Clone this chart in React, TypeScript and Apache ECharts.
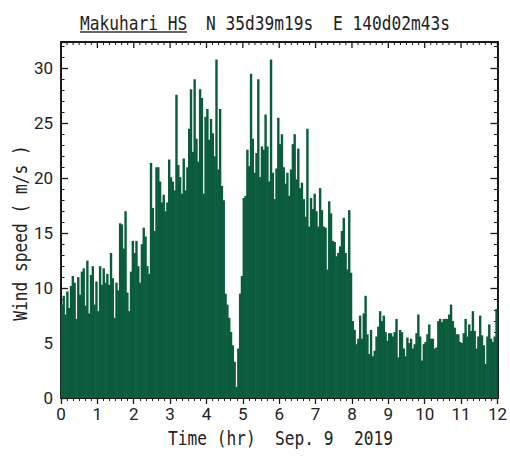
import React, { useEffect, useRef } from "react";
import * as echarts from "echarts";

// Wind speed (m/s), 3-minute steps, 20 values per hour
const hour0 = [8.5, 9.3, 7.6, 9.7, 8.2, 10.2, 11.1, 10.5, 7.2, 11.0, 9.4, 11.5, 11.8, 8.4, 12.5, 7.7, 11.2, 12.0, 8.5, 10.6];
const hour1 = [7.9, 12.0, 10.3, 11.8, 10.5, 11.3, 10.3, 13.2, 10.9, 7.3, 10.5, 9.8, 15.9, 15.8, 13.6, 17.0, 9.6, 7.9, 11.5, 14.3];
const hour2 = [13.2, 14.3, 12.0, 10.5, 14.0, 15.5, 14.7, 12.0, 11.3, 21.4, 17.3, 15.2, 21.0, 21.0, 19.7, 17.8, 18.5, 17.0, 17.8, 21.7];
const hour3 = [20.1, 19.7, 18.9, 27.6, 21.2, 20.1, 18.6, 21.8, 18.9, 21.0, 24.5, 28.1, 22.4, 29.0, 23.6, 21.5, 28.1, 27.3, 18.6, 25.6];
const hour4 = [26.3, 23.5, 25.4, 24.1, 22.0, 30.8, 20.8, 26.3, 19.3, 18.0, 9.5, 8.5, 7.3, 6.0, 4.8, 3.3, 1.0, 4.5, 9.5, 11.1];
const hour5 = [18.2, 18.4, 22.6, 21.1, 29.5, 23.6, 20.5, 22.3, 29.0, 20.1, 22.9, 22.6, 25.8, 22.9, 19.7, 30.8, 20.5, 18.1, 20.9, 25.5];
const hour6 = [23.1, 24.0, 21.0, 19.5, 20.5, 18.4, 20.8, 23.1, 24.0, 19.9, 22.7, 19.1, 19.6, 18.1, 16.5, 24.5, 15.6, 18.2, 17.2, 18.6];
const hour7 = [17.0, 15.6, 19.1, 17.1, 15.6, 15.5, 11.7, 17.9, 16.8, 14.3, 14.2, 12.9, 13.2, 13.8, 15.2, 16.4, 13.2, 11.7, 17.1, 11.4];
const hour8 = [7.0, 6.2, 4.9, 5.4, 7.5, 5.4, 7.7, 9.3, 5.8, 4.0, 6.2, 3.8, 4.3, 5.6, 6.5, 7.9, 7.0, 7.5, 6.0, 5.2];
const hour9 = [5.9, 5.9, 5.6, 6.0, 7.2, 3.7, 6.2, 6.0, 4.5, 3.8, 5.5, 5.0, 5.4, 4.5, 4.9, 5.9, 7.6, 5.6, 3.4, 4.9];
const hour10 = [5.1, 5.8, 6.7, 5.4, 5.4, 4.5, 4.6, 7.0, 7.2, 6.9, 7.2, 7.2, 7.2, 7.6, 8.5, 7.0, 6.4, 5.8, 5.8, 5.1];
const hour11 = [5.0, 5.9, 7.2, 5.6, 6.7, 6.1, 7.9, 6.1, 4.5, 5.6, 7.5, 5.7, 4.8, 3.1, 5.6, 6.7, 5.4, 5.1, 5.6, 8.1];

const hours = [hour0, hour1, hour2, hour3, hour4, hour5, hour6, hour7, hour8, hour9, hour10, hour11];
const stepMinutes = 3;

const titleParts = ["Makuhari HS", "N 35d39m19s", "E 140d02m43s"];
const xNameParts = ["Time (hr)", "Sep. 9", "2019"];
const yName = "Wind speed ( m/s )";

const X_MAX = 12;
const Y_MAX = 32.4;
const TICKS_PER_HOUR = 6;

const BAR = "#0a5c3c";
const INK = "#1a1a1a";
const MONO = "'DejaVu Sans Mono', 'Liberation Mono', monospace";
const LABEL_FONT = "'Roboto', sans-serif";

export default function App() {
  const ref = useRef<HTMLDivElement>(null);
  useEffect(() => {
    if (!ref.current) return;
    const chart = echarts.init(ref.current, undefined, { renderer: "svg" });
    const values = hours.flat();
    const stepHr = stepMinutes / 60;
    // each sample drawn at the middle of its 3-minute interval
    const points = values.map((v, i) => [(i + 0.5) * stepHr, v]);

    // tick positions of the top frame (every 10 minutes; third field flags full hours)
    const topTicks: number[][] = [];
    for (let k = 0; k <= X_MAX * TICKS_PER_HOUR; k++) {
      topTicks.push([k / TICKS_PER_HOUR, Y_MAX, k % TICKS_PER_HOUR === 0 ? 1 : 0]);
    }

    const mkLine = () => ({ show: true, onZero: false, lineStyle: { color: INK, width: 2 } });
    const mkYTick = () => ({ show: true, inside: true, length: 7, lineStyle: { color: INK, width: 1.3 } });
    const mkYMinor = () => ({ show: true, splitNumber: 5, length: 3.5, lineStyle: { color: INK, width: 1 } });

    const textStyle = (text: string) => ({
      text,
      font: `20px ${MONO}`,
      fill: "#222",
    });

    chart.setOption({
      animation: false,
      backgroundColor: "#ffffff",
      grid: { left: 61, right: 12, top: 42, bottom: 59, containLabel: false },
      xAxis: [
        {
          type: "value",
          position: "bottom",
          min: 0,
          max: X_MAX,
          interval: 1,
          axisLine: mkLine(),
          axisTick: { show: true, inside: false, length: 6, lineStyle: { color: INK, width: 1.3 } },
          minorTick: { show: true, splitNumber: 6, length: 3, lineStyle: { color: INK, width: 1 } },
          splitLine: { show: false },
          axisLabel: { color: "#222", fontFamily: LABEL_FONT, fontSize: 17, margin: 7 },
        },
        {
          type: "value",
          position: "top",
          min: 0,
          max: X_MAX,
          interval: 1,
          axisLine: mkLine(),
          axisTick: { show: false },
          minorTick: { show: false },
          splitLine: { show: false },
          axisLabel: { show: false },
        },
      ],
      yAxis: [
        {
          type: "value",
          position: "left",
          min: 0,
          max: Y_MAX,
          interval: 5,
          axisLine: mkLine(),
          axisTick: mkYTick(),
          minorTick: mkYMinor(),
          splitLine: { show: false },
          axisLabel: {
            color: "#222",
            fontFamily: LABEL_FONT,
            fontSize: 17,
            margin: 8,
            showMaxLabel: false,
          },
        },
        {
          type: "value",
          position: "right",
          min: 0,
          max: Y_MAX,
          interval: 5,
          axisLine: mkLine(),
          axisTick: mkYTick(),
          minorTick: mkYMinor(),
          splitLine: { show: false },
          axisLabel: { show: false },
        },
      ],
      series: [
        {
          type: "bar",
          xAxisIndex: 0,
          yAxisIndex: 0,
          data: points,
          barWidth: 2.4,
          itemStyle: { color: BAR },
          z: 1,
        },
        {
          type: "custom",
          xAxisIndex: 0,
          yAxisIndex: 0,
          silent: true,
          clip: false,
          z: 5,
          data: topTicks,
          encode: { x: 0, y: 1 },
          renderItem: (params: any, api: any) => {
            const p = api.coord([api.value(0), api.value(1)]);
            const len = api.value(2) === 1 ? 6 : 3;
            return {
              type: "line",
              shape: { x1: p[0], y1: p[1], x2: p[0], y2: p[1] + len },
              style: { stroke: INK, lineWidth: api.value(2) === 1 ? 1.3 : 1 },
            };
          },
        },
      ],
      graphic: [
        { type: "text", x: 80, y: 23, scaleX: 0.81, style: { ...textStyle(titleParts[0]), textVerticalAlign: "middle" } },
        { type: "line", shape: { x1: 80, y1: 32, x2: 187, y2: 32 }, style: { stroke: "#333", lineWidth: 1.5 } },
        { type: "text", x: 206, y: 23, scaleX: 0.81, style: { ...textStyle(titleParts[1]), textVerticalAlign: "middle" } },
        { type: "text", x: 333, y: 23, scaleX: 0.81, style: { ...textStyle(titleParts[2]), textVerticalAlign: "middle" } },
        { type: "text", x: 168, y: 438, scaleX: 0.81, style: { ...textStyle(xNameParts[0]), textVerticalAlign: "middle" } },
        { type: "text", x: 275, y: 438, scaleX: 0.81, style: { ...textStyle(xNameParts[1]), textVerticalAlign: "middle" } },
        { type: "text", x: 354, y: 438, scaleX: 0.81, style: { ...textStyle(xNameParts[2]), textVerticalAlign: "middle" } },
        {
          type: "text",
          x: 20,
          y: 233,
          rotation: Math.PI / 2,
          scaleX: 0.81,
          style: { ...textStyle(yName), textAlign: "center", textVerticalAlign: "middle" },
        },
      ],
    });
    return () => chart.dispose();
  }, []);
  return (
    <div
      ref={ref}
      style={{ position: "fixed", left: 0, top: 0, width: 510, height: 457, background: "#fff" }}
    />
  );
}
